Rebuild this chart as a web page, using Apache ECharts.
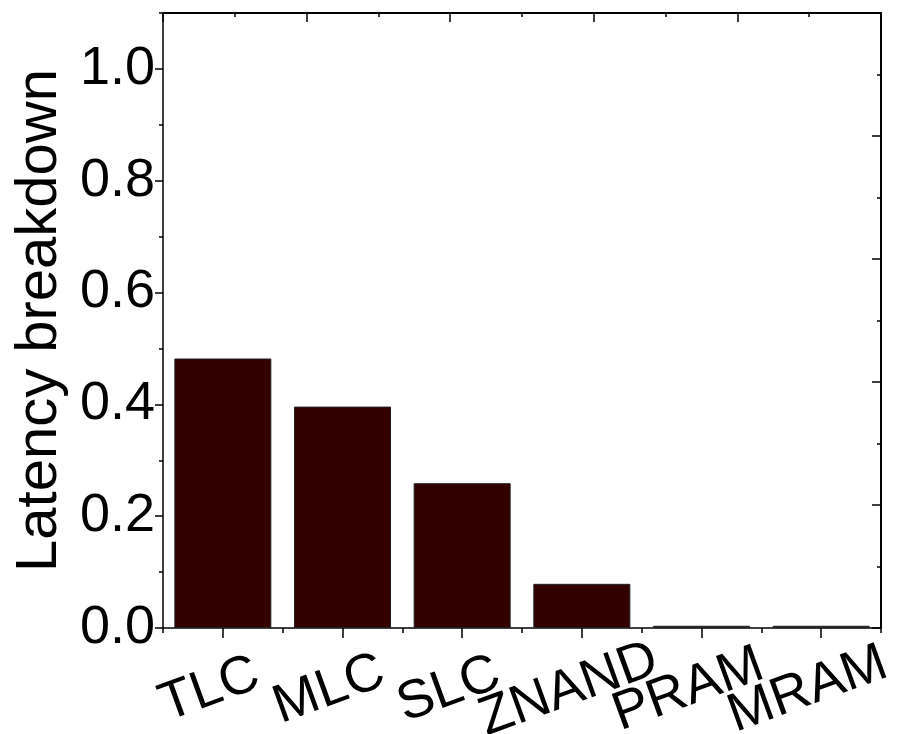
<!DOCTYPE html>
<html>
<head>
<meta charset="utf-8">
<script src="https://cdn.jsdelivr.net/npm/echarts@6/dist/echarts.min.js"></script>
<style>
  html, body { margin: 0; padding: 0; background: #fff; }
  #chart { width: 897px; height: 734px; }
</style>
</head>
<body>
<div id="chart"></div>
<script>
const categories = ['TLC', 'MLC', 'SLC', 'ZNAND', 'PRAM', 'MRAM']
const latency = [0.482, 0.396, 0.259, 0.079, 0.004, 0.004]
const yTicks = [0, 0.2, 0.4, 0.6, 0.8, 1.0]

const font = 'Liberation Sans, Arial, sans-serif'
const black = '#000'

const myChart = echarts.init(document.getElementById('chart'))
const option = {
  animation: false,
  grid: { left: 163, right: 16, top: 13, bottom: 106, containLabel: false, outerBoundsMode: 'none' },
  xAxis: [
    {
      type: 'category',
      data: categories,
      axisLine: { onZero: false, lineStyle: { color: black, width: 1.5 } },
      axisTick: { show: true, alignWithLabel: true, length: 10, lineStyle: { color: black, width: 1.5 } },
      axisLabel: {
        interval: 0,
        rotate: 20,
        align: 'center',
        verticalAlign: 'middle',
        margin: 57,
        padding: [0, 28, 0, 0],
        fontSize: 54,
        fontFamily: font,
        color: black
      }
    },
    {
      // boundary ticks between categories
      type: 'category',
      data: categories,
      position: 'bottom',
      axisLine: { show: false, onZero: false },
      axisTick: { show: true, length: 5, lineStyle: { color: black, width: 1.5 } },
      axisLabel: { show: false }
    },
    {
      type: 'value',
      position: 'top',
      min: 0,
      max: 10,
      interval: 2,
      axisLine: { show: true, onZero: false, lineStyle: { color: black, width: 2 } },
      axisTick: { show: true, inside: true, length: 9, lineStyle: { color: black, width: 1.5 } },
      minorTick: { show: true, splitNumber: 2, length: 4, lineStyle: { color: black, width: 1.5 } },
      axisLabel: { show: false },
      splitLine: { show: false }
    }
  ],
  yAxis: [
    {
      type: 'value',
      min: 0,
      max: 1.1,
      interval: 0.2,
      name: 'Latency breakdown',
      nameLocation: 'middle',
      nameGap: 88,
      nameTextStyle: { fontSize: 58, fontFamily: font, color: black },
      axisLine: { show: true, onZero: false, lineStyle: { color: black, width: 1.5 } },
      axisTick: { show: true, length: 8, lineStyle: { color: black, width: 1.5 } },
      axisLabel: {
        showMaxLabel: false,
        margin: 8,
        fontSize: 54,
        fontFamily: font,
        color: black,
        formatter: v => (yTicks.indexOf(Math.round(v * 10) / 10) >= 0 ? v.toFixed(1) : '')
      },
      splitLine: { show: false }
    },
    {
      // minor ticks every 0.1
      type: 'value',
      position: 'left',
      min: 0,
      max: 1.1,
      interval: 0.1,
      axisLine: { show: false, onZero: false },
      axisTick: { show: true, length: 4, lineStyle: { color: black, width: 1.5 } },
      axisLabel: { show: false },
      splitLine: { show: false }
    },
    {
      type: 'value',
      position: 'right',
      min: 0,
      max: 10,
      interval: 2,
      axisLine: { show: true, onZero: false, lineStyle: { color: black, width: 2 } },
      axisTick: { show: true, inside: true, length: 9, lineStyle: { color: black, width: 1.5 } },
      minorTick: { show: true, splitNumber: 2, length: 4, lineStyle: { color: black, width: 1.5 } },
      axisLabel: { show: false },
      splitLine: { show: false }
    }
  ],
  series: [
    {
      type: 'bar',
      xAxisIndex: 0,
      yAxisIndex: 0,
      barWidth: 97,
      itemStyle: { color: '#330000', borderColor: '#222', borderWidth: 1 },
      data: latency
    }
  ]
}
myChart.setOption(option)
window.onresize = myChart.resize
</script>
</body>
</html>
